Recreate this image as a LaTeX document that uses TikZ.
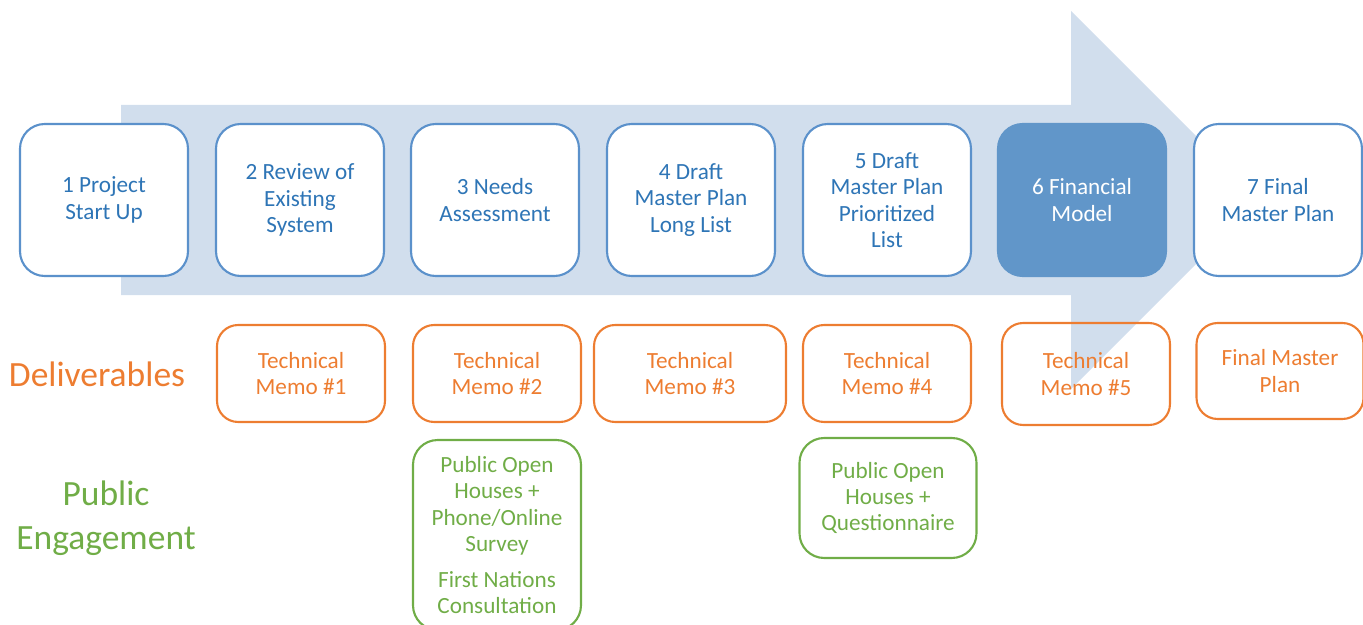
\documentclass[tikz,border=0pt]{standalone}
\usepackage{fontspec}
\setmainfont{Carlito}
\usetikzlibrary{positioning}
\definecolor{arrowfill}{RGB}{209,222,237}
\definecolor{stageline}{RGB}{91,145,203}
\definecolor{stagetext}{RGB}{46,117,182}
\definecolor{stagefill}{RGB}{97,150,201}
\definecolor{delivorange}{RGB}{237,125,49}
\definecolor{publicgreen}{RGB}{112,173,71}

\begin{document}
\begin{tikzpicture}[x=0.02cm,y=-0.02cm,
	stage/.style={draw=stageline,line width=1.2pt,fill=white,rounded corners=14pt,
		text=stagetext,align=center,minimum width=3.36cm,minimum height=3.04cm,
		font=\fontsize{13.2}{15}\selectfont},
	deliv/.style={draw=delivorange,line width=1.2pt,rounded corners=12pt,
		text=delivorange,align=center,minimum width=3.36cm,minimum height=1.94cm,
		font=\fontsize{13.2}{15}\selectfont},
	public/.style={draw=publicgreen,line width=1.2pt,rounded corners=14pt,
		text=publicgreen,align=center,minimum width=3.36cm,
		font=\fontsize{13.2}{15}\selectfont},
	rowlabel/.style={align=center,font=\fontsize{20.2}{25}\selectfont}]
	\useasboundingbox (0,0) rectangle (1363,625);
	
	%Big arrow behind the stages
	\fill[arrowfill] (121,105)--(1071,105)--(1071,11)--(1260,200)--(1071,389)--(1071,295)--(121,295)--cycle;
	
	%Stages
	\foreach \n/\x/\txt in {1/104/{1 Project\\Start Up},2/300/{2 Review of\\Existing\\System},
		3/495/{3 Needs\\Assessment},4/691/{4 Draft\\Master Plan\\Long List},
		5/887/{5 Draft\\Master Plan\\Prioritized\\List},7/1278/{7 Final\\Master Plan}}
	\node[stage] (s\n) at (\x,200) {\txt};
	\node[stage,draw=stagefill,fill=stagefill,text=white] (s6) at (1082,200) {6 Financial\\Model};
	
	%Deliverables row
	\node[rowlabel,text=delivorange] (deliverables) at (97,374) {Deliverables};
	\node[deliv] (d1) at (301,373.5) {Technical\\Memo \#1};
	\node[deliv] (d2) at (497,373.5) {Technical\\Memo \#2};
	\node[deliv,minimum width=3.84cm] (d3) at (690,373.5) {Technical\\Memo \#3};
	\node[deliv] (d4) at (887,373.5) {Technical\\Memo \#4};
	\node[deliv,minimum height=2.04cm] (d5) at (1086,374) {Technical\\Memo \#5};
	\node[deliv,minimum width=3.34cm,minimum height=1.92cm] (d6) at (1280,371) {Final Master\\Plan};
	
	%Public engagement row
	\node[rowlabel,text=publicgreen] (engagement) at (106,518) {Public\\Engagement};
	\node[public,minimum height=3.8cm] (p1) at (497,535) {Public Open\\Houses +\\Phone/Online\\Survey\\[5.2pt]First Nations\\Consultation};
	\node[public,minimum width=3.54cm,minimum height=2.4cm] (p2) at (888,498) {Public Open\\Houses +\\Questionnaire};
\end{tikzpicture}
\end{document}
